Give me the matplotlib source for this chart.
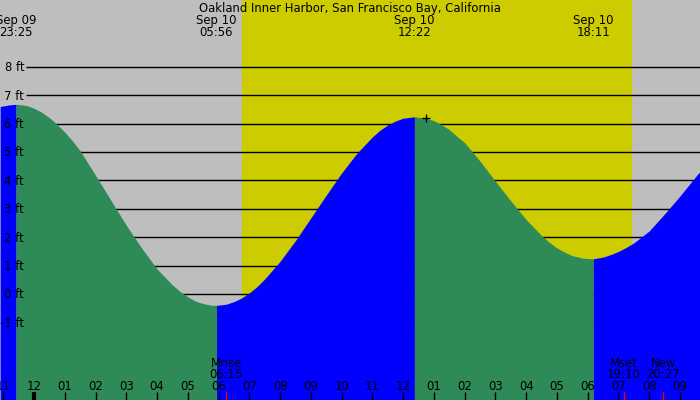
import matplotlib
matplotlib.use("Agg")
import matplotlib.pyplot as plt

# Tide curve: hours after midnight Sep 10, height in ft
tide_hours = [-1.1, -0.8, -0.583, -0.25, 0.0, 0.25, 0.5, 0.75, 1.0, 1.25, 1.5, 2.0, 2.5, 3.0, 3.5, 4.0,
              4.5, 4.75, 5.0, 5.25, 5.5, 5.75, 5.933,
              6.25, 6.5, 6.75, 7.0, 7.25, 7.5, 8.0, 8.5, 9.0, 9.5, 10.0, 10.5, 11.0, 11.25, 11.5, 11.75,
              12.0, 12.367,
              12.75, 13.0, 13.25, 13.5, 13.75, 14.0, 14.5, 15.0, 15.5, 16.0, 16.5, 16.75, 17.0, 17.25,
              17.5, 17.85, 18.183,
              18.5, 18.75, 19.0, 19.25, 19.5, 20.0, 20.5, 21.0, 21.5, 21.7]
tide_ft = [6.60, 6.66, 6.68, 6.64, 6.54, 6.40, 6.21, 5.97, 5.70, 5.39, 5.04, 4.18, 3.30, 2.42, 1.62, 0.88,
           0.32, 0.09, -0.10, -0.25, -0.34, -0.39, -0.40,
           -0.36, -0.27, -0.14, 0.04, 0.26, 0.53, 1.15, 1.88, 2.68, 3.48, 4.26, 4.96, 5.53, 5.77, 5.95, 6.09,
           6.19, 6.24,
           6.19, 6.10, 5.96, 5.79, 5.55, 5.33, 4.68, 3.97, 3.28, 2.62, 2.06, 1.82, 1.62, 1.47,
           1.35, 1.26, 1.24,
           1.30, 1.39, 1.50, 1.64, 1.80, 2.22, 2.82, 3.45, 4.12, 4.38]

# high / low tides
extreme_hours = [-0.583, 5.933, 12.367, 18.183]
extreme_dates = ["Sep 09", "Sep 10", "Sep 10", "Sep 10"]
extreme_times = ["23:25", "05:56", "12:22", "18:11"]

sunrise, sunset = 6.76, 19.41

# moon events
moon_hours = [6.25, 19.167, 20.45]
moon_names = ["Mrise", "Mset", "New"]
moon_times = ["06:15", "19:10", "20:27"]

hour_ticks = list(range(-1, 22))
hour_labels = ["%02d" % ((h % 12) or 12) for h in hour_ticks]
levels = list(range(-1, 9))

now_hour, now_ft = 12.75, 6.19

title = "Oakland Inner Harbor, San Francisco Bay, California"

GRAY = "#bebebe"
YELLOW = "#cccc00"
GREEN = "#2e8b57"
BLUE = "#0000ff"

PX_H = 30.76   # pixels per hour
PX_FT = 28.4   # pixels per foot
X0 = 34.0      # pixel of midnight
Y0 = 294.0     # pixel of 0 ft

plt.rcParams["font.family"] = ["DejaVu Sans"]

fig = plt.figure(figsize=(7, 4), dpi=100, facecolor=GRAY)
ax = fig.add_axes([0, 0, 1, 1])
ax.set_xlim(-X0 / PX_H, (700 - X0) / PX_H)
ax.set_ylim((Y0 - 400) / PX_FT, Y0 / PX_FT)
ax.axis("off")

ax.axvspan(sunrise, sunset, color=YELLOW, zorder=0)

# depth lines
line_start = (26 - X0) / PX_H
ax.hlines(levels, line_start, ax.get_xlim()[1], colors="black", linewidth=1, zorder=1)

# fill segment by segment: blue while rising, green while falling
bottom = ax.get_ylim()[0] - 1
cuts = [0] + [tide_hours.index(h) for h in extreme_hours] + [len(tide_hours) - 1]
for a, b in zip(cuts[:-1], cuts[1:]):
    xs = tide_hours[a:b + 1]
    ys = tide_ft[a:b + 1]
    color = BLUE if ys[-1] > ys[0] else GREEN
    ax.fill_between(xs, bottom, ys, color=color, linewidth=0, zorder=2)

ax.plot([now_hour], [now_ft], marker="+", ms=6, mew=1, color="black", zorder=4)

fs = 8.4
top = ax.get_xaxis_transform()


def yfrac(px):
    return 1 - px / 400.0


for h in levels:
    ax.text((24 - X0) / PX_H, h - 4.3 / PX_FT, "%d ft" % h, ha="right", va="baseline",
            fontsize=fs, zorder=5)

ax.text(0.5, yfrac(11.7), title, transform=ax.transAxes, ha="center", va="baseline", fontsize=fs)
for h, d, t in zip(extreme_hours, extreme_dates, extreme_times):
    ax.text(h, yfrac(23.7), d, transform=top, ha="center", va="baseline", fontsize=fs)
    ax.text(h, yfrac(36.0), t, transform=top, ha="center", va="baseline", fontsize=fs)

for h, lab in zip(hour_ticks, hour_labels):
    ax.text(h, yfrac(390), lab, transform=top, ha="center", va="baseline", fontsize=fs, zorder=5)
    lw = 3 if h == 0 else 1
    ax.plot([h, h], [0, yfrac(392)], transform=top, color="black", linewidth=lw, zorder=5,
            solid_capstyle="butt")

for h, n, t in zip(moon_hours, moon_names, moon_times):
    ax.text(h, yfrac(366.7), n, transform=top, ha="center", va="baseline", fontsize=fs, zorder=5)
    ax.text(h, yfrac(378.3), t, transform=top, ha="center", va="baseline", fontsize=fs, zorder=5)
    ax.plot([h, h], [0, yfrac(392)], transform=top, color="red", linewidth=1, zorder=5,
            solid_capstyle="butt")

fig.savefig("out.png", dpi=100, facecolor=GRAY)
